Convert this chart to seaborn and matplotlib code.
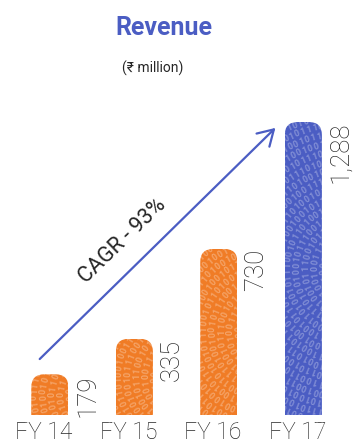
import numpy as np
import pandas as pd
import matplotlib
matplotlib.use("Agg")
import matplotlib.pyplot as plt
import seaborn as sns
from matplotlib.patches import FancyBboxPatch
from matplotlib.transforms import IdentityTransform, ScaledTranslation

# ---- data -------------------------------------------------------------
years = ["FY 14", "FY 15", "FY 16", "FY 17"]
revenue = [179, 335, 730, 1288]
value_labels = ["179", "335", "730", "1,288"]
bar_colors = ["#F07C26", "#F07C26", "#F07C26", "#4B5DC3"]
title = "Revenue"
unit = "(₹ million)"
cagr_text = "CAGR - 93%"

BLUE = "#4B5DC3"
TEXT = "#262626"

sns.set_theme(style="white")
plt.rcParams["font.family"] = ["Roboto", "DejaVu Sans"]

W, H = 354, 445
fig = plt.figure(figsize=(W / 100, H / 100), dpi=100)
ax = fig.add_axes([0, 30 / H, 1, 364 / H])

df = pd.DataFrame({"year": years, "revenue": revenue})
sns.barplot(data=df, x="year", y="revenue", hue="year", palette=bar_colors,
            width=0.44, saturation=1, legend=False, linewidth=0, ax=ax)

xlim = (-0.59, 3.6)
ylim = (0, 1600)
ax.set_xlim(*xlim)
ax.set_ylim(*ylim)
ax.set_xlabel("")
ax.set_ylabel("")
ax.set_yticks([])
for s in ax.spines.values():
    s.set_visible(False)
ax.set_facecolor("none")
ax.tick_params(axis="x", length=0, pad=4.0, labelsize=16.5, labelcolor=TEXT)
shift = ScaledTranslation(-6 / 100, 0, fig.dpi_scale_trans)
for lab in ax.get_xticklabels():
    lab.set_fontweight("light")
    lab.set_transform(lab.get_transform() + shift)

# ---- rounded bar tops + binary texture ----------------------------------
px_x = ax.bbox.width / (xlim[1] - xlim[0])
px_y = ax.bbox.height / (ylim[1] - ylim[0])
r_px = 13
rx, ry = r_px / px_x, r_px / px_y

digits = "10010111001001011010011101001011001110100"
ident = IdentityTransform()
for patch in ax.patches:
    x0, w, h = patch.get_x(), patch.get_width(), patch.get_height()
    clip = FancyBboxPatch((x0, -2 * ry), w, h + 2 * ry,
                          boxstyle=f"round,pad=0,rounding_size={rx}",
                          mutation_aspect=ry / rx, transform=ax.transData)
    patch.set_clip_path(clip)

    (L, B), (R, T) = ax.transData.transform([(x0, 0), (x0 + w, h)])
    cx, cy = R + 30, (B + T) / 2
    rmax = np.hypot(cx - L, (T - B) / 2) + 8
    k = 0
    r = 10.0
    while r < rmax:
        n = max(int(2 * np.pi * r / 6.0), 1)
        for j in range(n):
            th = 2 * np.pi * j / n
            px, py = cx + r * np.cos(th), cy + r * np.sin(th)
            if L - 6 <= px <= R + 6 and B - 6 <= py <= T + 6:
                ax.text(px, py, digits[k % len(digits)], transform=ident,
                        rotation=np.degrees(th) - 90, rotation_mode="anchor",
                        ha="center", va="center", fontsize=6.5,
                        fontweight="bold", color="white",
                        alpha=0.32, clip_path=clip)
                k += 1
        r += 9.0

# ---- value labels -------------------------------------------------------
for i, (v, lab) in enumerate(zip(revenue, value_labels)):
    ax.text(i + 0.30, v, lab, rotation=90, ha="left", va="top",
            fontsize=18.5, fontweight="light", color=TEXT)

# ---- CAGR arrow -----------------------------------------------------------
start = (0 - 0.12, revenue[0] + 67)
end = (3 - 0.33, revenue[3] - 26)
ax.annotate("", xy=end, xytext=start,
            arrowprops=dict(arrowstyle="->,head_length=0.5,head_width=0.3",
                            color=BLUE, lw=1.6, mutation_scale=22,
                            shrinkA=0, shrinkB=0))
t = 0.43
mid = (start[0] + t * (end[0] - start[0]), start[1] + t * (end[1] - start[1]))
ax.annotate(cagr_text, xy=mid, xytext=(-13.1, 13.4), textcoords="offset points",
            rotation=44, rotation_mode="anchor", ha="center", va="center",
            fontsize=15.5, color=TEXT)

# ---- titles -------------------------------------------------------------
fig.text(164 / W, 1 - 35 / H, title, ha="center", va="baseline",
         fontsize=18, fontweight="bold", color=BLUE)
fig.text(153 / W, 1 - 73 / H, unit, ha="center", va="baseline",
         fontsize=10, color=TEXT)

fig.savefig("out.png", dpi=100)
